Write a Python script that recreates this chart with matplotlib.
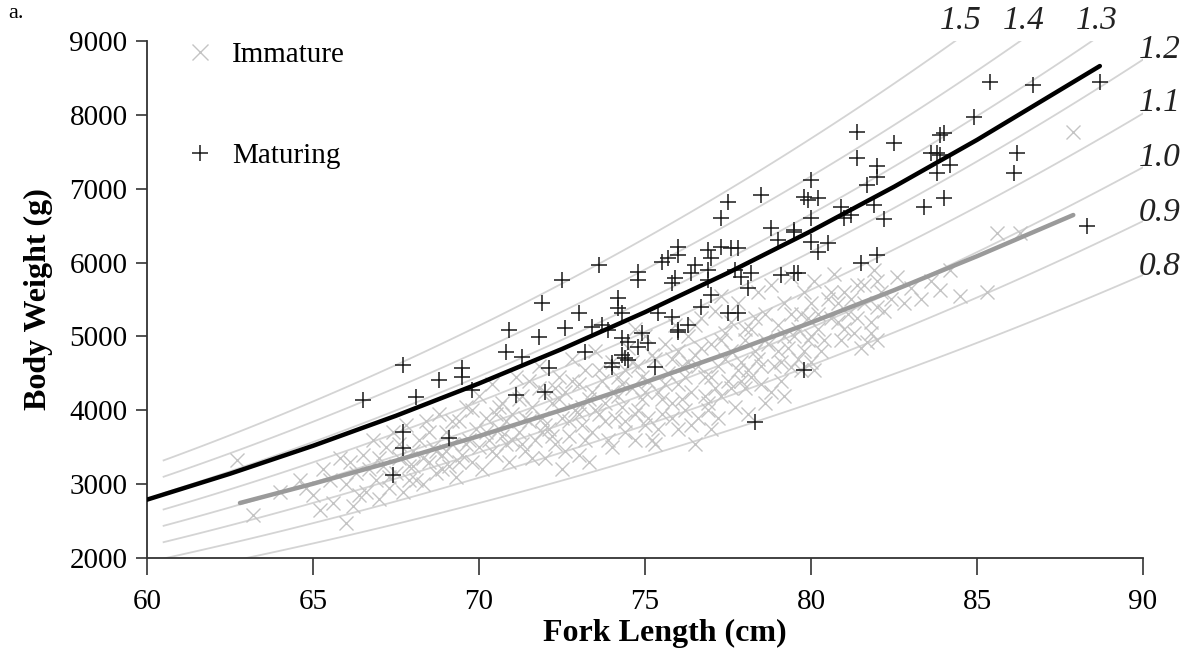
import numpy as np
import matplotlib
matplotlib.use("Agg")
import matplotlib.pyplot as plt

plt.rcParams['font.family'] = ['Liberation Serif', 'DejaVu Serif']

# ---- data ----
k_values = [0.8, 0.9, 1.0, 1.1, 1.2, 1.3, 1.4, 1.5]
k_labels = ["0.8", "0.9", "1.0", "1.1", "1.2", "1.3", "1.4", "1.5"]
iso_length = np.linspace(60.5, 90, 120)

mat_fit_len = [60.0, 62.5, 65.0, 67.5, 70.0, 72.5, 75.0, 77.5, 80.0, 82.5, 85.0, 88.7]
mat_fit_wt = [2790, 3141, 3519, 3926, 4363, 4830, 5329, 5861, 6426, 7026, 7661, 8661]
imm_fit_len = [62.8, 65.0, 67.5, 70.0, 72.5, 75.0, 77.5, 80.0, 82.5, 85.0, 87.9]
imm_fit_wt = [2745, 3005, 3319, 3651, 4005, 4379, 4773, 5188, 5626, 6086, 6644]

maturing_len = [66.5, 67.7, 67.7, 67.7, 67.4, 68.1, 68.8, 69.1, 69.5, 69.5, 69.8,
                70.9, 70.8, 71.1, 71.3, 71.8, 71.9, 72.0, 72.1, 72.5, 72.6, 73.0,
                73.2, 73.4, 73.7, 73.9, 73.6, 74.2, 74.2, 74.3, 74.3, 74.5, 74.0,
                74.0, 74.4, 74.3, 74.5, 74.8, 74.8, 74.9, 75.1, 74.8, 75.4, 75.8,
                76.0, 76.3, 75.3, 76.0, 75.5, 75.7, 76.0, 76.0, 75.9, 75.8, 76.5,
                76.4, 76.9, 77.0, 76.9, 76.9, 77.3, 77.6, 77.8, 77.7, 77.9, 78.2,
                78.1, 77.0, 76.7, 77.5, 77.8, 77.3, 77.5, 78.5, 78.8, 79.0, 79.5,
                79.1, 79.5, 78.3, 79.8, 79.6, 80.0, 79.8, 79.9, 80.2, 80.0, 79.5,
                80.0, 80.2, 80.5, 80.9, 81.0, 81.2, 81.4, 81.4, 81.5, 81.7, 81.9,
                82.0, 82.0, 82.0, 82.2, 82.5, 83.4, 83.6, 83.8, 83.9, 83.9, 84.0,
                84.0, 84.2, 83.8, 84.9, 85.4, 86.1, 86.2, 86.7, 88.3, 88.7]
maturing_wt = [4139, 4613, 3706, 3489, 3124, 4180, 4410, 3625, 4572, 4451, 4275,
               5087, 4789, 4207, 4721, 4992, 5452, 4248, 4572, 5764, 5114, 5317,
               4789, 5128, 5155, 5087, 5967, 5520, 5385, 5317, 4979, 4925, 4640,
               4586, 4708, 4748, 4681, 5872, 5764, 5046, 4911, 4857, 5317, 5263,
               5060, 5155, 4586, 5087, 6008, 6062, 6211, 6102, 5791, 5723, 5967,
               5859, 6170, 6062, 5899, 5764, 6211, 6197, 6197, 5899, 5805, 5859,
               5656, 5561, 5398, 5317, 5317, 6603, 6820, 6915, 6468, 6305, 6414,
               5832, 5859, 3841, 4545, 5859, 7118, 6888, 6847, 6874, 6603, 6441,
               6278, 6143, 6265, 6752, 6603, 6644, 7768, 7416, 5994, 7050, 6779,
               7307, 7158, 6102, 6590, 7619, 6752, 7483, 7212, 7727, 7456, 7754,
               6874, 7321, 7483, 7971, 8445, 7212, 7483, 8404, 6495, 8445]

immature_len = [62.7, 63.2, 64.0, 64.6, 65.0, 65.3, 65.6, 65.8, 66.0, 66.0,
                66.2, 66.3, 66.5, 66.6, 66.8, 66.9, 67.0, 67.1, 67.2, 67.3, 67.4, 67.5,
                67.6, 67.7, 67.8, 67.9, 68.0, 68.0,
                68.2, 68.3, 68.4, 68.5, 68.6, 68.7, 68.8, 68.9, 69.0, 69.1, 69.2, 69.3,
                69.4, 69.5, 69.6, 69.7, 69.8, 69.9, 70.0, 70.0,
                70.1, 70.2, 70.3, 70.4, 70.5, 70.6, 70.7, 70.8, 70.9, 71.0, 71.1, 71.2,
                71.3, 71.4, 71.5, 71.6, 71.7, 71.8, 71.9, 72.0, 72.0, 71.5, 70.5,
                72.1, 72.2, 72.3, 72.4, 72.5, 72.6, 72.7, 72.8, 72.9, 73.0, 73.0, 73.1,
                73.2, 73.3, 73.4, 73.5, 73.6, 73.7, 73.8, 73.9, 74.0, 74.0, 72.5, 73.5, 72.3,
                74.1, 74.2, 74.3, 74.4, 74.5, 74.6, 74.7, 74.8, 74.9, 75.0, 75.0, 75.1,
                75.2, 75.3, 75.4, 75.5, 75.6, 75.7, 75.8, 75.9, 76.0, 76.0, 74.4, 75.3,
                75.8, 74.7,
                76.1, 76.2, 76.3, 76.4, 76.5, 76.6, 76.7, 76.8, 76.9, 77.0, 77.0, 77.1,
                77.2, 77.3, 77.4, 77.5, 77.6, 77.7, 77.8, 77.9, 78.0, 78.0, 76.5, 77.3,
                76.9, 77.6,
                78.1, 78.2, 78.3, 78.4, 78.5, 78.6, 78.7, 78.8, 78.9, 79.0, 79.1, 79.2,
                79.3, 79.4, 79.5, 79.6, 79.7, 79.8, 79.9, 80.0, 80.0, 78.6, 79.2,
                80.1, 80.2, 80.3, 80.5, 80.6, 80.7, 80.9, 81.0, 81.1, 81.3, 81.4, 81.5,
                81.6, 81.8, 81.9, 82.0, 82.1, 82.2, 82.0, 80.8, 81.7, 79.4,
                82.4, 82.6, 82.8, 83.0, 83.3, 83.6, 83.9, 84.2, 84.5, 85.3, 85.6, 86.3,
                87.9,
                70.2, 70.4, 70.6, 70.8, 71.0, 71.2, 71.4, 71.6, 71.8, 72.0,
                72.2, 72.4, 72.6, 72.8, 73.0, 73.2, 73.4, 73.6, 73.8, 74.0,
                74.2, 74.4, 74.6, 74.8, 75.0, 75.2, 75.4, 75.6, 75.8, 76.0,
                76.2, 76.4, 76.6, 76.8, 77.0, 77.2, 77.4, 77.6, 77.8, 78.0,
                78.2, 78.4, 78.6, 78.8, 79.0, 79.2, 79.4, 79.6, 79.8, 80.0,
                80.2, 80.4, 80.6, 80.8, 81.0, 81.2, 81.4, 81.6, 81.8, 82.0,
                69.0, 69.2, 69.4, 69.6, 69.8, 68.5, 68.7, 68.9, 68.1, 68.3,
                67.0, 67.3, 67.6, 67.9, 66.7, 66.4, 66.1, 65.5, 65.2, 64.8,
                74.3, 74.9, 75.5, 76.1, 76.7, 77.3, 77.9, 78.5, 79.1, 79.7,
                73.1, 72.7, 71.9, 71.3, 70.7, 75.1, 76.3, 77.1, 78.3, 79.9,
                73.3, 74.7, 76.5, 78.1, 80.1]
immature_wt = [3330, 2580, 2900, 3050, 2850, 3200, 2750, 3350, 2480, 3000,
               2700, 3150, 3400, 2900, 3600, 3050, 2800, 3250, 3500, 2950, 3700, 3150,
               3350, 2900, 3800, 3050, 3450, 3250,
               3600, 3000, 3850, 3300, 3500, 3150, 3950, 3400, 3700, 3250, 3550, 3100,
               3850, 3400, 4050, 3600, 3300, 3750, 3500, 4200,
               3200, 3900, 3600, 4350, 3400, 3750, 4100, 3550, 3300, 3950, 4450, 3700,
               4200, 3450, 3850, 4050, 3600, 4600, 3900, 3350, 4250, 4400, 3950,
               3750, 4100, 3550, 4450, 3900, 4250, 3650, 4700, 4000, 3400, 4350, 3800,
               4550, 4150, 3700, 4800, 3950, 4400, 4100, 3600, 4650, 4250, 3200, 4000, 4300,
               3900, 4450, 4050, 3700, 4850, 4300, 3950, 4600, 4150, 3800, 5000, 4400,
               3600, 4700, 4250, 3950, 4900, 4500, 4100, 5150, 4350, 3750, 4550, 3550,
               4700, 5100,
               4600, 4000, 5000, 4250, 4750, 3900, 5250, 4450, 4100, 4900, 3750, 5350,
               4600, 4200, 5050, 4400, 4800, 4050, 5450, 4650, 4950, 4300, 5150, 5550,
               4000, 5200,
               4550, 5100, 4800, 5600, 4350, 5300, 4900, 5700, 4600, 5150, 4400, 5450,
               4850, 5800, 5000, 4700, 5300, 5600, 4950, 5450, 4650, 4100, 4200,
               5750, 5100, 4800, 5500, 5250, 5850, 4950, 5600, 5300, 5050, 5700, 4850,
               5450, 5200, 5900, 4950, 5600, 5350, 5750, 5195, 4925, 4586,
               5500, 5800, 5452, 5650, 5500, 5750, 5628, 5900, 5550, 5601, 6400, 6400,
               7768,
               3700, 3450, 4050, 3850, 3600, 4150, 3900, 3350, 4300, 3800,
               3650, 4150, 3450, 4400, 3950, 3600, 4250, 4550, 3850, 3500,
               4200, 3850, 4650, 4000, 4250, 4750, 3750, 4350, 3900, 4800,
               4450, 3800, 4600, 4200, 4450, 3900, 4700, 4300, 4550, 5100,
               4450, 4700, 4950, 4250, 4800, 5000, 5300, 5100, 4800, 5000,
               5300, 4950, 5600, 5450, 5100, 5500, 5250, 5700, 5050, 5400,
               3450, 3850, 3300, 3550, 4000, 3700, 3450, 3200, 3050, 3350,
               3350, 3100, 3550, 3250, 3200, 2850, 3300, 3050, 2650, 2950,
               4350, 4450, 4150, 4150, 4850, 4950, 4400, 4600, 4650, 4550,
               4050, 3850, 3700, 3550, 3650, 3900, 4650, 4300, 5250, 5250,
               3300, 3600, 3550, 3950, 4550]

# ---- figure ----
W, H = 1189, 656
fig = plt.figure(figsize=(W / 100, H / 100), dpi=100)
ax = fig.add_axes([147 / W, 1 - 558 / H, (1143 - 147) / W, (558 - 41) / H])

for k in k_values:
    ax.plot(iso_length, k * iso_length ** 3 / 100.0, color='#d4d4d4', lw=1.3, zorder=1)

ax.plot(immature_len, immature_wt, linestyle='none', marker='x', ms=10, mew=1.0,
        color='#c4c4c4', label='Immature', zorder=2)
ax.plot(maturing_len, maturing_wt, linestyle='none', marker='+', ms=12, mew=1.1,
        color='#1a1a1a', label='Maturing', zorder=4)

ax.plot(imm_fit_len, imm_fit_wt, color='#9a9a9a', lw=3.2, zorder=3, solid_capstyle='round')
ax.plot(mat_fit_len, mat_fit_wt, color='#000000', lw=3.2, zorder=5, solid_capstyle='round')

ax.set_xlim(60, 90)
ax.set_ylim(2000, 9000)
ax.set_xticks([60, 65, 70, 75, 80, 85, 90])
ax.set_yticks([2000, 3000, 4000, 5000, 6000, 7000, 8000, 9000])
for s in ['top', 'right']:
    ax.spines[s].set_visible(False)
for s in ['left', 'bottom']:
    ax.spines[s].set_color('#333333')
    ax.spines[s].set_linewidth(1.3)
ax.tick_params(axis='y', direction='out', length=8, width=1.2, labelsize=21, pad=6, color='#333333')
ax.tick_params(axis='x', direction='out', length=12, width=1.2, labelsize=21, pad=10, color='#333333')

ax.set_xlabel('Fork Length (cm)', fontsize=23, fontweight='bold')
ax.xaxis.set_label_coords(0.52, -0.118)
ax.set_ylabel('Body Weight (g)', fontsize=23, fontweight='bold', labelpad=12)

leg = ax.legend(loc='upper left', bbox_to_anchor=(0.012, 1.05), frameon=False, fontsize=21,
                labelspacing=2.58, handletextpad=0.6, handlelength=1.0, markerscale=1.0)
for h in leg.legend_handles:
    h.set_markersize(11)

label_pos = {"1.5": (961, 21), "1.4": (1024, 21), "1.3": (1097, 21), "1.2": (1160, 50),
             "1.1": (1160, 103), "1.0": (1160, 158), "0.9": (1160, 213), "0.8": (1160, 267)}
for lab in k_labels:
    px, py = label_pos[lab]
    fig.text(px / W, 1 - py / H, lab, fontsize=24, style='italic', ha='center', va='center',
             color='#222222')

fig.text(8 / W, 1 - 14 / H, 'a.', fontsize=16, ha='left', va='center')

fig.savefig('out.png', dpi=100)
